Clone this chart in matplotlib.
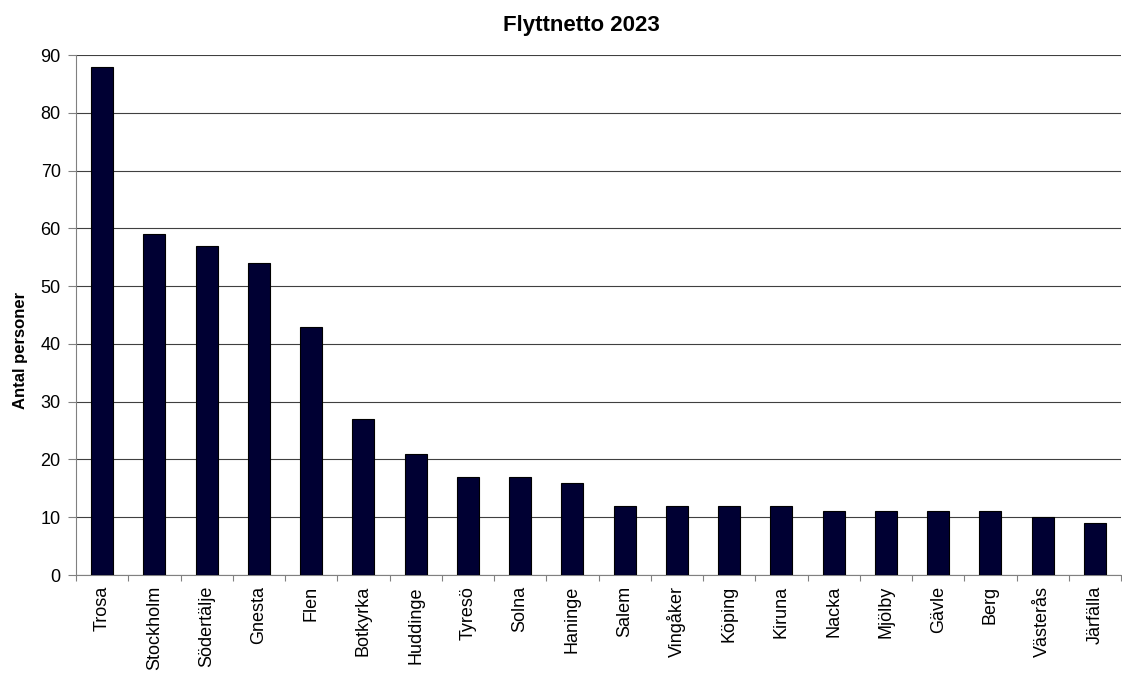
import matplotlib
matplotlib.use("Agg")
import matplotlib.pyplot as plt
import numpy as np

plt.rcParams['font.family'] = ['Liberation Sans', 'DejaVu Sans']

categories = ["Trosa", "Stockholm", "Södertälje", "Gnesta", "Flen", "Botkyrka",
              "Huddinge", "Tyresö", "Solna", "Haninge", "Salem", "Vingåker",
              "Köping", "Kiruna", "Nacka", "Mjölby", "Gävle", "Berg",
              "Västerås", "Järfälla"]
values = [88, 59, 57, 54, 43, 27, 21, 17, 17, 16, 12, 12, 12, 12, 11, 11, 11, 11, 10, 9]
yticks = [0, 10, 20, 30, 40, 50, 60, 70, 80, 90]

fig = plt.figure(figsize=(11.22, 6.75), dpi=100)
ax = fig.add_axes([76/1122, 1-575/675, (1121-76)/1122, (575-55)/675])

x = np.arange(len(categories))
ax.bar(x, values, width=0.42, color="#000033", edgecolor="black", linewidth=0.8, zorder=3)

ax.set_xlim(-0.5, len(categories)-0.5)
ax.set_ylim(0, 90)
ax.set_yticks(yticks)
ax.set_yticklabels([str(v) for v in yticks], fontsize=13)
ax.yaxis.grid(True, color="#404040", linewidth=0.8, zorder=0)
ax.set_axisbelow(True)

ax.set_xticks(x)
ax.set_xticklabels(categories, rotation=90, fontsize=13)
ax.tick_params(axis='x', length=0, pad=8)
ax.set_xticks(np.arange(-0.5, len(categories)), minor=True)
ax.tick_params(axis='x', which='minor', length=4, color="#808080", width=0.8)
ax.tick_params(axis='y', length=6, color="#808080", width=0.8, pad=5)

for s in ['top', 'right']:
    ax.spines[s].set_visible(False)
ax.spines['left'].set_color("#808080")
ax.spines['bottom'].set_color("#808080")

ax.set_ylabel("Antal personer", fontsize=12, fontweight='bold')
ax.yaxis.set_label_coords((28-76)/1045, (575-350)/520)
fig.text(581/1122, 1-25/675, "Flyttnetto 2023", ha='center', va='center',
         fontsize=16, fontweight='bold')

fig.savefig("out.png", dpi=100)
